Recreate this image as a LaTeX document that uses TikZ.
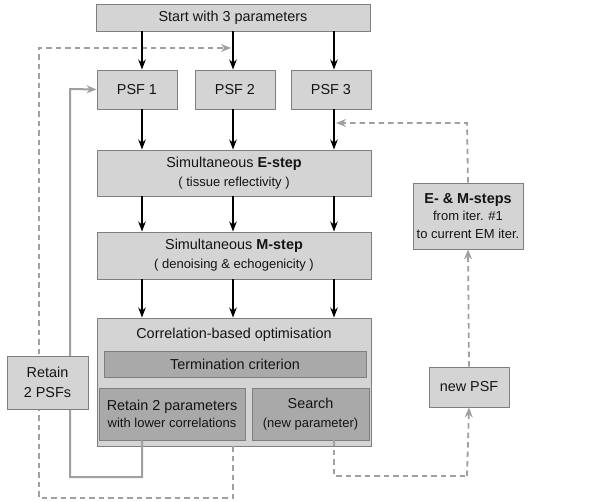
\documentclass[tikz,border=0pt]{standalone}
\usepackage{fontspec}
\setmainfont{Liberation Sans}
\usetikzlibrary{arrows.meta}
\definecolor{boxgray}{HTML}{D4D4D4}
\definecolor{darkbox}{HTML}{A9A9A9}
\definecolor{bordergray}{HTML}{7F7F7F}
\definecolor{lgray}{HTML}{A0A0A0}
\definecolor{txt}{HTML}{141414}
\tikzset{
  box/.style={draw=bordergray, fill=boxgray, line width=0.9pt, inner sep=0pt, text=txt, align=center,
    font=\fontsize{14.4}{19}\selectfont},
  innerbox/.style={box, fill=darkbox},
  blk/.style={line width=1.6pt, draw=black, -{Stealth[length=10pt,width=7.5pt]}},
  gsolid/.style={draw=lgray, line width=2pt},
  gsolidarr/.style={gsolid, -{Stealth[length=10pt,width=8pt]}},
  gdash/.style={draw=lgray, line width=1.8pt, dash pattern=on 5.5pt off 4pt},
  gdasharr/.style={gdash, -{Stealth[length=10pt,width=8pt,fill=lgray]}},
}
\newcommand{\sm}[1]{{\fontsize{13}{19}\selectfont #1}}
\begin{document}
\begin{tikzpicture}[x=1pt,y=-1pt]
\useasboundingbox (0,0) rectangle (605,502);
\fill[white] (0,0) rectangle (605,502);

% column coordinates
\coordinate (c1) at (142,0);
\coordinate (c2) at (233,0);
\coordinate (c3) at (334,0);

% corner coordinates of the feedback lines
\coordinate (s1) at (142,477);
\coordinate (s2) at (70,477);
\coordinate (s3) at (70,89);
\coordinate (d1) at (233,498);
\coordinate (d2) at (39,498);
\coordinate (d3) at (39,48);
\coordinate (d4) at (231,48);
\coordinate (e1) at (334,476);
\coordinate (e2) at (467,476);
\coordinate (f1) at (467,123);
\coordinate (f2) at (336,123);

% nodes
\node[box, minimum width=274pt, minimum height=27pt] (start) at (233,17.5) {Start with 3 parameters};
\node[box, minimum width=80pt, minimum height=39pt] (psf1) at (137,89.5) {PSF 1};
\node[box, minimum width=80pt, minimum height=39pt] (psf2) at (235,89.5) {PSF 2};
\node[box, minimum width=80pt, minimum height=39pt] (psf3) at (331,89.5) {PSF 3};
\node[box, minimum width=274pt, minimum height=46pt] (estep) at (234,173)
  {Simultaneous \textbf{E-step}\\[0pt]\sm{( tissue reflectivity )}};
\node[box, minimum width=274pt, minimum height=47pt] (mstep) at (234,255.5)
  {Simultaneous \textbf{M-step}\\[0pt]\sm{( denoising \& echogenicity )}};
\node[box, minimum width=274pt, minimum height=128pt] (corr) at (234,382) {};
\node[text=txt, font=\fontsize{14.4}{19}\selectfont] (corrtitle) at (234,335) {Correlation-based optimisation};
\node[innerbox, minimum width=262pt, minimum height=26pt] (term) at (235,364) {Termination criterion};
\node[innerbox, minimum width=146pt, minimum height=52pt, font=\fontsize{14.4}{17}\selectfont] (retp) at (172,414)
  {Retain 2 parameters\\\sm{with lower correlations}};
\node[innerbox, minimum width=117pt, minimum height=52pt, font=\fontsize{14.4}{18.5}\selectfont] (search) at (310.5,414)
  {Search\\\sm{(new parameter)}};

% feedback connectors
\draw[gsolidarr] (retp.south -| c1) -- (s1) -- (s2) -- (s3) -- (psf1.west);
\draw[gdasharr] (corr.south -| c2) -- (d1) -- (d2) -- (d3) -- (d4);
\draw[gdash] (search.south -| c3) -- (e1) -- (e2);

\node[box, minimum width=81pt, minimum height=53pt, font=\fontsize{14.4}{20}\selectfont] (retpsf) at (47.5,382.5) {Retain\\2 PSFs};
\node[box, minimum width=80pt, minimum height=40pt] (newpsf) at (469,387) {new PSF};
\node[box, minimum width=110pt, minimum height=66pt, font=\fontsize{14.4}{17.5}\selectfont] (em) at (468,216)
  {\textbf{E- \& M-steps}\\\sm{from iter. \#1}\\\sm{to current EM iter.}};

\draw[gdasharr] (e2) -- (newpsf.south);
\draw[gdasharr] (newpsf.north) -- (em.south);
\draw[gdasharr] (em.north) -- (f1) -- (f2);

% black arrows
\draw[blk] (start.south -| c1) -- (psf1.north -| c1);
\draw[blk] (start.south -| c2) -- (psf2.north -| c2);
\draw[blk] (start.south -| c3) -- (psf3.north -| c3);
\draw[blk] (psf1.south -| c1) -- (estep.north -| c1);
\draw[blk] (psf2.south -| c2) -- (estep.north -| c2);
\draw[blk] (psf3.south -| c3) -- (estep.north -| c3);
\draw[blk] (estep.south -| c1) -- (mstep.north -| c1);
\draw[blk] (estep.south -| c2) -- (mstep.north -| c2);
\draw[blk] (estep.south -| c3) -- (mstep.north -| c3);
\draw[blk] (mstep.south -| c1) -- (corr.north -| c1);
\draw[blk] (mstep.south -| c2) -- (corr.north -| c2);
\draw[blk] (mstep.south -| c3) -- (corr.north -| c3);
\end{tikzpicture}
\end{document}
